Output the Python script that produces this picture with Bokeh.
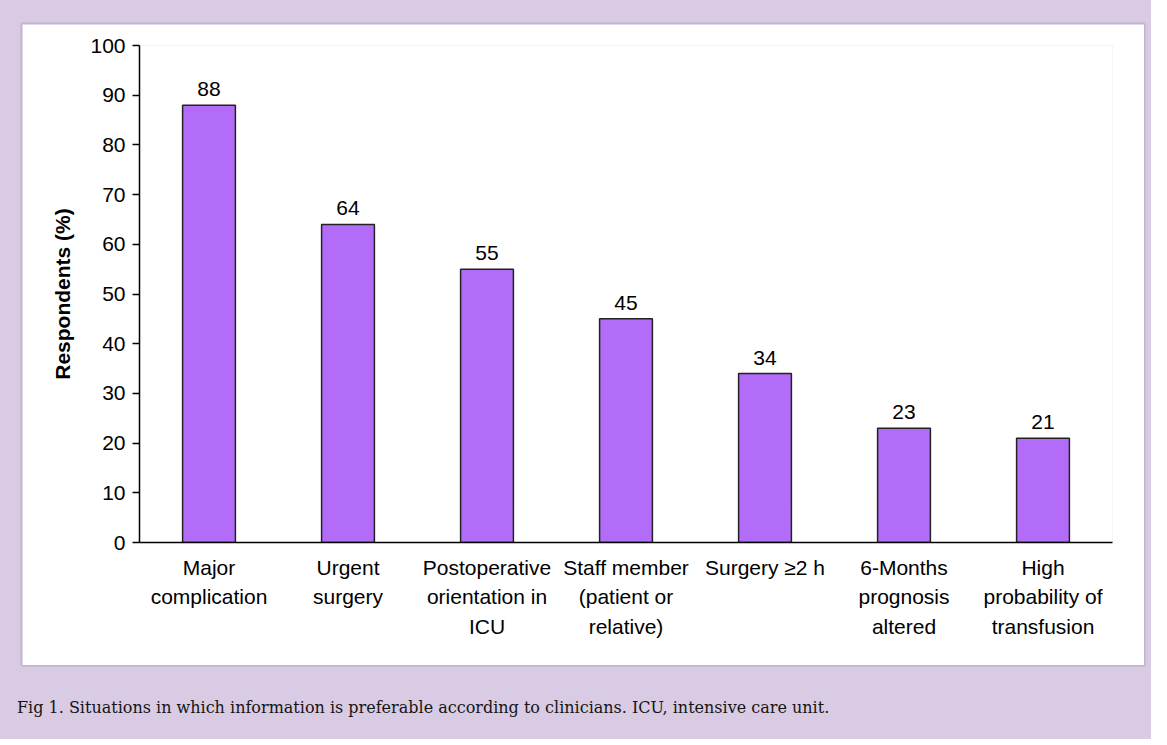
from bokeh.plotting import figure
from bokeh.layouts import column
from bokeh.models import FactorRange, Range1d, FixedTicker, ColumnDataSource, Div
from bokeh.core.properties import value
from bokeh.embed import file_html
from bokeh.resources import INLINE

categories = ["Major\ncomplication", "Urgent\nsurgery", "Postoperative\norientation in\nICU",
              "Staff member\n(patient or\nrelative)", "Surgery \u22652 h", "6-Months\nprognosis\naltered",
              "High\nprobability of\ntransfusion"]
values = [88, 64, 55, 45, 34, 23, 21]
y_ticks = [0, 10, 20, 30, 40, 50, 60, 70, 80, 90, 100]
caption = "Fig 1. Situations in which information is preferable according to clinicians. ICU, intensive care unit."

FONT = "Liberation Sans"
LAVENDER = "#d9cbe4"

p = figure(width=1122, height=641, x_range=FactorRange(factors=categories), y_range=Range1d(0, 100),
           output_backend="svg", toolbar_location=None,
           min_border_left=117, min_border_right=32, min_border_top=21, min_border_bottom=123)
p.border_fill_color = "white"
p.background_fill_color = "white"
p.outline_line_color = None
p.xgrid.grid_line_color = None
p.ygrid.grid_line_color = None
p.styles = {"box-shadow": "0px 0px 2px 1px #b3a8bd"}

src = ColumnDataSource(dict(x=categories, top=values, txt=[str(v) for v in values]))
p.vbar(x="x", top="top", width=0.38, bottom=0, source=src, fill_color="#b36cf7",
       line_color="#222222", line_width=1.5)
p.text(x="x", y="top", text="txt", source=src, text_align="center", text_baseline="alphabetic",
       y_offset=-16, text_font=value(FONT), text_font_size="21px", text_color="black")

ax = p.xaxis[0]
ax.major_tick_line_color = None
ax.minor_tick_line_color = None
ax.axis_line_color = "black"
ax.axis_line_width = 1.5
ax.major_label_text_font = FONT
ax.major_label_text_font_size = "21px"
ax.major_label_text_color = "black"
ax.major_label_text_line_height = 1.3
ax.major_label_standoff = 7

ay = p.yaxis[0]
ay.ticker = FixedTicker(ticks=y_ticks)
ay.minor_tick_line_color = None
ay.major_tick_in = 0
ay.major_tick_out = 7
ay.major_tick_line_width = 1.5
ay.axis_line_width = 1.5
ay.axis_line_color = "black"
ay.major_label_text_font = FONT
ay.major_label_text_font_size = "21px"
ay.major_label_text_color = "black"
ay.major_label_standoff = 7
ay.axis_label = "Respondents (%)"
ay.axis_label_text_font = FONT
ay.axis_label_text_font_size = "21px"
ay.axis_label_text_font_style = "bold"
ay.axis_label_text_color = "black"
ay.axis_label_standoff = 13

cap = Div(text=caption, width=1122, height=47,
          styles={"font-family": "'DejaVu Serif', serif", "font-size": "16px", "color": "#151515",
                  "padding-top": "30px", "margin-left": "-5px", "line-height": "1"})

layout = column(p, cap, spacing=0,
                styles={"background-color": LAVENDER, "padding": "24px 7px 17px 22px"})

open("out.html", "w").write(file_html(layout, INLINE))
